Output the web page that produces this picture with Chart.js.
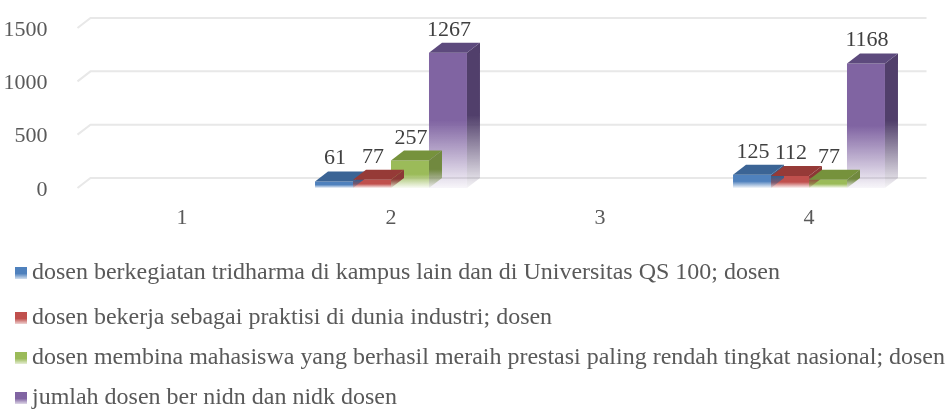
<!DOCTYPE html>
<html lang="id">
<head>
<meta charset="UTF-8">
<title>Dosen</title>
<script src="https://cdn.jsdelivr.net/npm/chart.js"></script>
<style>
    html, body { margin: 0; padding: 0; background: #ffffff; }
    .wrap { position: relative; width: 948px; height: 410px; overflow: hidden; }
    #chart { position: absolute; left: 0; top: 0; }
    .leg { position: absolute; left: 15px; height: 26px; white-space: nowrap;
           font-family: "Liberation Serif", "Times New Roman", serif; font-size: 23px; color: #595959; }
    .leg .box { position: absolute; left: 0; top: 8px; width: 12px; height: 12px; }
    .leg .txt { position: absolute; left: 17px; top: 0; line-height: 26px; transform-origin: 0 50%; }
</style>
</head>
<body>
<div class="wrap">
    <canvas id="chart" width="948" height="410"></canvas>
    <div id="legend"></div>
</div>
<script>
// data
const categories = ['1', '2', '3', '4'];
const seriesNames = [
    'dosen berkegiatan tridharma di kampus lain dan di Universitas QS 100; dosen',
    'dosen bekerja sebagai praktisi di dunia industri; dosen',
    'dosen membina mahasiswa yang berhasil meraih prestasi paling rendah tingkat nasional; dosen',
    'jumlah dosen ber nidn dan nidk dosen'
];
const tridharma = [null, 61, null, 125];
const praktisi = [null, 77, null, 112];
const prestasi = [null, 257, null, 77];
const nidn = [null, 1267, null, 1168];
const yTicks = [0, 500, 1000, 1500];

// colours: front, side, top
const front = ['#4f81bd', '#c0504d', '#9bbb59', '#8064a2'];
const side = ['#385d8a', '#8c3836', '#71893f', '#513f6b'];
const top3d = ['#3b6495', '#963a37', '#76923c', '#5d4a7d'];

const DX = 13, DY = 10, GRID_DY = 10;
const FONT = '"Liberation Serif", "Times New Roman", serif';

function hexA(hex, a) {
    const n = parseInt(hex.slice(1), 16);
    return `rgba(${n >> 16},${(n >> 8) & 255},${n & 255},${a})`;
}

function fade(ctx, hex, yTop, yBase) {
    const g = ctx.createLinearGradient(0, yTop, 0, yBase);
    g.addColorStop(0, hex);
    g.addColorStop(0.5, hex);
    g.addColorStop(1, hexA(hex, 0.06));
    return g;
}

function barFill(i) {
    return function (c) {
        const chart = c.chart;
        if (!chart.chartArea || c.raw == null) return front[i];
        const ys = chart.scales.y;
        return fade(chart.ctx, front[i], ys.getPixelForValue(c.raw), ys.getPixelForValue(0));
    };
}

// back wall grid lines, pushed back into depth
const backWall = {
    id: 'backWall',
    beforeDatasetsDraw(chart) {
        const ctx = chart.ctx, ys = chart.scales.y, a = chart.chartArea;
        ctx.save();
        ctx.strokeStyle = '#e8e8e8';
        ctx.lineWidth = 2;
        yTicks.forEach(v => {
            const y = ys.getPixelForValue(v);
            ctx.beginPath();
            ctx.moveTo(a.left, y);
            ctx.lineTo(a.left + DX, y - GRID_DY);
            ctx.lineTo(a.right + DX, y - GRID_DY);
            ctx.stroke();
        });
        ctx.restore();
    }
};

// side and top faces + value labels
const faces = {
    id: 'faces',
    afterDatasetsDraw(chart) {
        const ctx = chart.ctx;
        ctx.save();
        chart.data.datasets.forEach((ds, i) => {
            chart.getDatasetMeta(i).data.forEach((bar, j) => {
                if (ds.data[j] == null) return;
                const p = bar.getProps(['x', 'y', 'base', 'width'], true);
                const l = p.x - p.width / 2, r = p.x + p.width / 2;
                ctx.fillStyle = fade(ctx, side[i], p.y - DY, p.base);
                ctx.beginPath();
                ctx.moveTo(r, p.y);
                ctx.lineTo(r + DX, p.y - DY);
                ctx.lineTo(r + DX, p.base - DY);
                ctx.lineTo(r, p.base);
                ctx.closePath();
                ctx.fill();
                ctx.fillStyle = top3d[i];
                ctx.beginPath();
                ctx.moveTo(l, p.y);
                ctx.lineTo(l + DX, p.y - DY);
                ctx.lineTo(r + DX, p.y - DY);
                ctx.lineTo(r, p.y);
                ctx.closePath();
                ctx.fill();
            });
        });
        ctx.fillStyle = '#404040';
        ctx.font = '22px ' + FONT;
        ctx.textAlign = 'center';
        ctx.textBaseline = 'alphabetic';
        chart.data.datasets.forEach((ds, i) => {
            chart.getDatasetMeta(i).data.forEach((bar, j) => {
                if (ds.data[j] == null) return;
                const p = bar.getProps(['x', 'y'], true);
                ctx.fillText(String(ds.data[j]), p.x + 1, p.y - 17);
            });
        });
        ctx.restore();
    }
};

const series = [tridharma, praktisi, prestasi, nidn];

new Chart(document.getElementById('chart'), {
    type: 'bar',
    data: {
        labels: categories,
        datasets: series.map((d, i) => ({
            label: seriesNames[i],
            data: d,
            backgroundColor: barFill(i),
            borderWidth: 0,
            categoryPercentage: 0.727,
            barPercentage: 1
        }))
    },
    options: {
        responsive: false,
        animation: false,
        events: [],
        layout: { padding: { left: 0, right: 34.5, top: 28, bottom: 182 } },
        plugins: { legend: { display: false }, tooltip: { enabled: false } },
        scales: {
            x: {
                grid: { display: false },
                border: { display: false },
                ticks: { color: '#595959', padding: 9, font: { family: FONT, size: 22 } },
                afterFit(s) { s.height = 40; }
            },
            y: {
                min: 0, max: 1500,
                afterBuildTicks(s) { s.ticks = yTicks.map(v => ({ value: v })); },
                grid: { display: false },
                border: { display: false },
                ticks: { color: '#595959', padding: 22, labelOffset: 2,
                         callback: v => String(v),
                         font: { family: FONT, size: 22 } },
                afterFit(s) { s.width = 77.5; s.paddingTop = 0; s.paddingBottom = 0; }
            }
        }
    },
    plugins: [backWall, faces]
});

// legend
const legendTops = [259, 304, 344, 384];
const legend = document.getElementById('legend');
const txts = [];
seriesNames.forEach((name, i) => {
    const item = document.createElement('div');
    item.className = 'leg';
    item.style.top = legendTops[i] + 'px';
    const box = document.createElement('span');
    box.className = 'box';
    box.style.background = `linear-gradient(${front[i]} 55%, ${hexA(front[i], 0.25)})`;
    const t = document.createElement('span');
    t.className = 'txt';
    t.textContent = name;
    item.appendChild(box);
    item.appendChild(t);
    legend.appendChild(item);
    txts.push(t);
});
const sx = 913 / txts[2].getBoundingClientRect().width;
txts.forEach(t => { t.style.transform = `scaleX(${sx})`; });
</script>
</body>
</html>
